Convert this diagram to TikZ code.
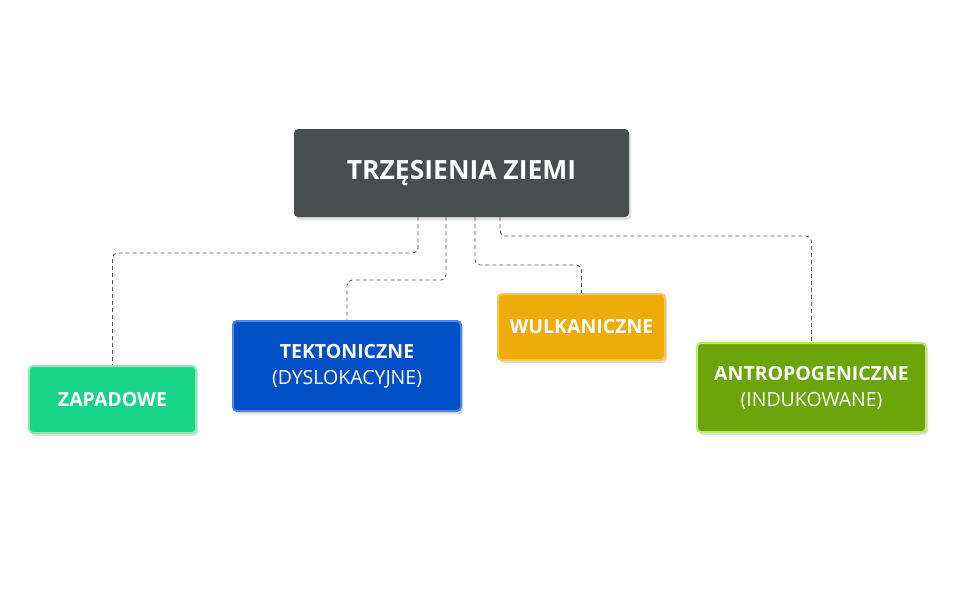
\documentclass[tikz,border=0pt]{standalone}
\usepackage{fontspec}
\setmainfont{Open Sans}
\usetikzlibrary{shadows}

\definecolor{kopf}{HTML}{484D50}
\definecolor{zapF}{HTML}{18D487}
\definecolor{zapR}{HTML}{80F0B4}
\definecolor{tekF}{HTML}{004FC6}
\definecolor{tekR}{HTML}{4A86E8}
\definecolor{wulF}{HTML}{EEAC0A}
\definecolor{wulR}{HTML}{F8C550}
\definecolor{antF}{HTML}{6BA50B}
\definecolor{antR}{HTML}{B8EC6A}

\tikzset{
	kasten/.style={rectangle, rounded corners=4pt, line width=2pt, text=white, align=center,
		inner sep=0pt, font=\fontsize{19.5}{26}\selectfont,
		drop shadow={opacity=0.25, shadow xshift=2pt, shadow yshift=-3pt}},
	link/.style={draw=black!65, dash pattern=on 4pt off 3pt, line width=0.8pt, rounded corners=5pt}
}

\begin{document}
\begin{tikzpicture}[x=1pt,y=-1pt]
	
	\useasboundingbox (0,0) rectangle (960,590);
	
	\node[kasten, fill=kopf, line width=0pt, minimum width=335pt, minimum height=88pt,
		font=\fontsize{26.5}{30}\selectfont\bfseries] (main) at (461.5,173) {TRZĘSIENIA ZIEMI};
	
	\node[kasten, fill=zapF, draw=zapR, minimum width=167pt, minimum height=67pt] (zap) at (112.5,399.5) {\textbf{ZAPADOWE}};
	\node[kasten, fill=tekF, draw=tekR, minimum width=228pt, minimum height=90pt] (tek) at (347,366) {\textbf{TEKTONICZNE}\\(DYSLOKACYJNE)};
	\node[kasten, fill=wulF, draw=wulR, minimum width=167pt, minimum height=66pt] (wul) at (581.5,327) {\textbf{WULKANICZNE}};
	\node[kasten, fill=antF, draw=antR, minimum width=229pt, minimum height=89pt] (ant) at (811.5,387.5) {\textbf{ANTROPOGENICZNE}\\(INDUKOWANE)};
	
	% Verbindungen
	\draw[link] ([xshift=-43.5pt]main.south) -- ++(0,36) -| (zap.north);
	\draw[link] ([xshift=-15.5pt]main.south) -- ++(0,63) -| (tek.north);
	\draw[link] ([xshift=13.5pt]main.south) -- ++(0,48) -| (wul.north);
	\draw[link] ([xshift=38.5pt]main.south) -- ++(0,19) -| (ant.north);
	
\end{tikzpicture}
\end{document}
